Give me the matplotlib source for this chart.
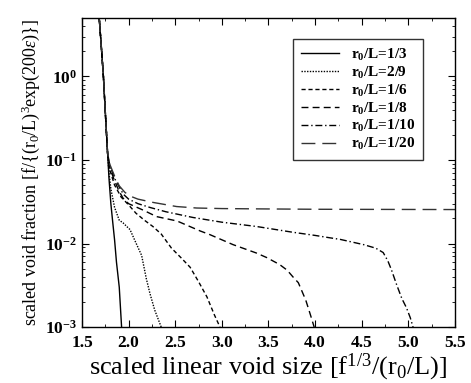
import numpy as np
import matplotlib
matplotlib.use("Agg")
import matplotlib.pyplot as plt
from matplotlib.ticker import MultipleLocator, LogLocator, NullFormatter

plt.rcParams['font.family'] = ['Liberation Serif', 'DejaVu Serif']
plt.rcParams['mathtext.fontset'] = 'custom'
plt.rcParams['mathtext.rm'] = 'Liberation Serif'
plt.rcParams['mathtext.it'] = 'Liberation Serif:italic'
plt.rcParams['mathtext.bf'] = 'Liberation Serif:bold'

# ===================================== data
# shared steep start of all curves
x_head = [1.685, 1.705, 1.73, 1.755, 1.775]
y_head = [5.0, 2.5, 1.0, 0.3, 0.12]

x_13 = [1.79, 1.81, 1.83, 1.85, 1.87, 1.90, 1.925]
y_13 = [0.06, 0.03, 0.018, 0.011, 0.006, 0.003, 0.001]

x_29 = [1.79, 1.81, 1.85, 1.90, 1.94, 1.98, 2.015, 2.07, 2.14, 2.19, 2.23, 2.28, 2.35]
y_29 = [0.07, 0.045, 0.027, 0.019, 0.0177, 0.016, 0.0147, 0.0107, 0.0072, 0.0038, 0.0025, 0.0016, 0.001]

x_16 = [1.80, 1.85, 1.92, 2.0, 2.08, 2.17, 2.26, 2.35, 2.46, 2.56, 2.66, 2.75, 2.84, 2.92, 2.98]
y_16 = [0.075, 0.05, 0.036, 0.029, 0.023, 0.019, 0.016, 0.013, 0.0088, 0.0068, 0.0052, 0.0035, 0.0023, 0.0014, 0.001]

x_18 = [1.80, 1.85, 1.90, 1.94, 2.0, 2.16, 2.3, 2.52, 2.77, 2.87, 3.12, 3.37, 3.48, 3.62, 3.70,
        3.77, 3.82, 3.90, 3.95, 3.99]
y_18 = [0.08, 0.056, 0.042, 0.035, 0.030, 0.025, 0.021, 0.0186, 0.0141, 0.0128, 0.0097, 0.0077,
        0.0068, 0.0056, 0.0048, 0.0039, 0.0034, 0.0021, 0.0014, 0.001]

x_110 = [1.80, 1.85, 1.907, 1.943, 2.0, 2.1, 2.23, 2.4, 2.69, 3.0, 3.37, 3.48, 3.75, 4.0, 4.16,
         4.27, 4.52, 4.65, 4.73, 4.78, 4.82, 4.875, 4.93, 4.98, 5.02, 5.05]
y_110 = [0.085, 0.06, 0.046, 0.039, 0.034, 0.030, 0.027, 0.024, 0.0205, 0.018, 0.016, 0.0153,
         0.0137, 0.0125, 0.0117, 0.0112, 0.0097, 0.0088, 0.0078, 0.0062, 0.0048, 0.0032, 0.0022,
         0.0017, 0.0013, 0.001]

x_120 = [1.80, 1.85, 1.90, 1.96, 2.015, 2.1, 2.265, 2.515, 2.73, 3.0, 3.34, 4.0, 5.5]
y_120 = [0.088, 0.064, 0.049, 0.041, 0.037, 0.034, 0.031, 0.0277, 0.0266, 0.0262, 0.026, 0.0257, 0.0255]

labels = ['1/3', '2/9', '1/6', '1/8', '1/10', '1/20']

series = [(x_13, y_13, '-', 'black'),
          (x_29, y_29, (0, (1, 1)), 'black'),
          (x_16, y_16, (0, (3, 2)), 'black'),
          (x_18, y_18, (0, (5, 3)), 'black'),
          (x_110, y_110, (0, (5, 2, 1, 2)), 'black'),
          (x_120, y_120, (0, (10, 5)), '#333333')]

# ===================================== plot
fig = plt.figure(figsize=(4.71, 3.83), dpi=100)
ax = fig.add_axes([0.174, 0.146, 0.792, 0.807])

for (xs, ys, ls, c), lab in zip(series, labels):
    ax.plot(x_head + xs, y_head + ys, color=c, lw=1.0, linestyle=ls,
            label=r'r$_\mathbf{0}$/L=' + lab)

ax.set_yscale('log')
ax.set_xlim(1.5, 5.5)
ax.set_ylim(1e-3, 5)

ax.xaxis.set_major_locator(MultipleLocator(0.5))
ax.xaxis.set_minor_locator(MultipleLocator(0.25))
ax.yaxis.set_major_locator(LogLocator(base=10, numticks=10))
ax.yaxis.set_minor_locator(LogLocator(base=10, subs=np.arange(2, 10), numticks=10))
ax.yaxis.set_minor_formatter(NullFormatter())
ax.xaxis.set_major_formatter(plt.FuncFormatter(lambda v, p: f'{v:.1f}'))
ax.yaxis.set_major_formatter(plt.FuncFormatter(
    lambda v, p: r'$\mathbf{10^{%d}}$' % int(round(np.log10(v)))))

ax.tick_params(which='both', direction='in', top=True, right=True)
ax.tick_params(which='major', length=5, labelsize=12.5)
ax.tick_params(which='minor', length=2.5)
for lab in ax.get_xticklabels() + ax.get_yticklabels():
    lab.set_fontweight('bold')
ax.tick_params(axis='x', pad=6)

for sp in ax.spines.values():
    sp.set_linewidth(1.0)

ax.set_xlabel(r'scaled linear void size [f$^{1/3}$/(r$_0$/L)]', fontsize=19, labelpad=0)
ax.set_ylabel(r'scaled void fraction [f/{(r$_0$/L)$^3$exp(200$\epsilon$)}]', fontsize=13, labelpad=2)

leg = ax.legend(loc='upper right', bbox_to_anchor=(0.914, 0.932), prop={'size': 11, 'weight': 'bold'},
                handlelength=2.5, frameon=True, fancybox=False, borderpad=0.5,
                labelspacing=0.12, handletextpad=0.8, borderaxespad=0)
leg.get_frame().set_edgecolor('black')
leg.get_frame().set_linewidth(1.0)

plt.savefig('out.png', dpi=100)
